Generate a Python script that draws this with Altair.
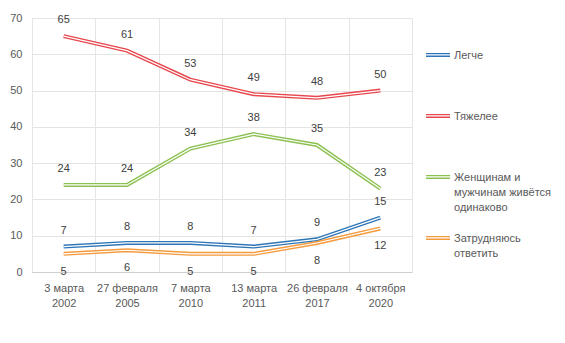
import altair as alt
import pandas as pd

dates = ["3 марта\n2002", "27 февраля\n2005", "7 марта\n2010", "13 марта\n2011", "26 февраля\n2017", "4 октября\n2020"]
series_names = ["Легче", "Тяжелее", "Женщинам и\nмужчинам живётся\nодинаково", "Затрудняюсь\nответить"]
legche = [7, 8, 8, 7, 9, 15]
tyazhelee = [65, 61, 53, 49, 48, 50]
odinakovo = [24, 24, 34, 38, 35, 23]
zatrudnyayus = [5, 6, 5, 5, 8, 12]
colors = ["#2E75B6", "#E8474D", "#8CC152", "#F59B3D"]
y_ticks = [0, 10, 20, 30, 40, 50, 60, 70]

rows = []
for name, vals in zip(series_names, [legche, tyazhelee, odinakovo, zatrudnyayus]):
    for d, v in zip(dates, vals):
        rows.append({"date": d, "series": name, "value": v})
df = pd.DataFrame(rows)

FONT = "Liberation Sans"
GRID = "#e4e4e4"

x = alt.X(
    "date:N", sort=dates,
    scale=alt.Scale(type="band", paddingInner=0, paddingOuter=0),
    axis=alt.Axis(title=None, labelExpr="split(datum.label, '\\n')", labelAngle=0,
                  tickBand="extent", grid=True, gridColor=GRID, ticks=False,
                  domainColor="#d0d0d0", labelPadding=10, labelLineHeight=15,
                  labelColor="#595959", labelFontSize=11, labelFont=FONT),
)
y = alt.Y(
    "value:Q", scale=alt.Scale(domain=[0, 70]),
    axis=alt.Axis(values=y_ticks, title=None, domain=False, ticks=False, gridColor=GRID,
                  labelPadding=10, labelColor="#595959", labelFontSize=11, labelFont=FONT),
)
color = alt.Color(
    "series:N",
    scale=alt.Scale(domain=series_names, range=colors),
    legend=alt.Legend(
        title=None, orient="none", legendX=393, legendY=19, padding=0,
        symbolType="M-1,0.3H1M-1,0.52H1", symbolSize=576, symbolStrokeWidth=1.3,
        labelExpr="slice(split(datum.label + '\\n \\n ', '\\n'), 0, 3)", labelBaseline="top",
        rowPadding=7, labelFontSize=11, labelColor="#595959", labelOffset=3, labelFont=FONT,
        labelLimit=200,
    ),
)

base = alt.Chart(df)
outer = base.mark_line(strokeWidth=4).encode(x=x, y=y, color=color)
inner = base.mark_line(strokeWidth=1.2, color="white").encode(x=x, y=y, detail="series:N")
above = base.transform_filter(alt.datum.series != series_names[3]).mark_text(
    dy=-16, fontSize=11, color="#404040", font=FONT).encode(x=x, y=y, text="value:Q")
below = base.transform_filter(alt.datum.series == series_names[3]).mark_text(
    dy=18, fontSize=11, color="#404040", font=FONT).encode(x=x, y=y, text="value:Q")

chart = alt.layer(outer, inner, above, below).properties(
    width=380, height=254,
    padding={"left": 32, "top": 18, "right": 153, "bottom": 71},
    autosize=alt.AutoSizeParams(type="none"),
).configure_view(stroke=None).configure(font=FONT, style={"guide-label": {"lineHeight": 15}})

chart.save("out.html", embed_options={"renderer": "svg", "actions": False})
